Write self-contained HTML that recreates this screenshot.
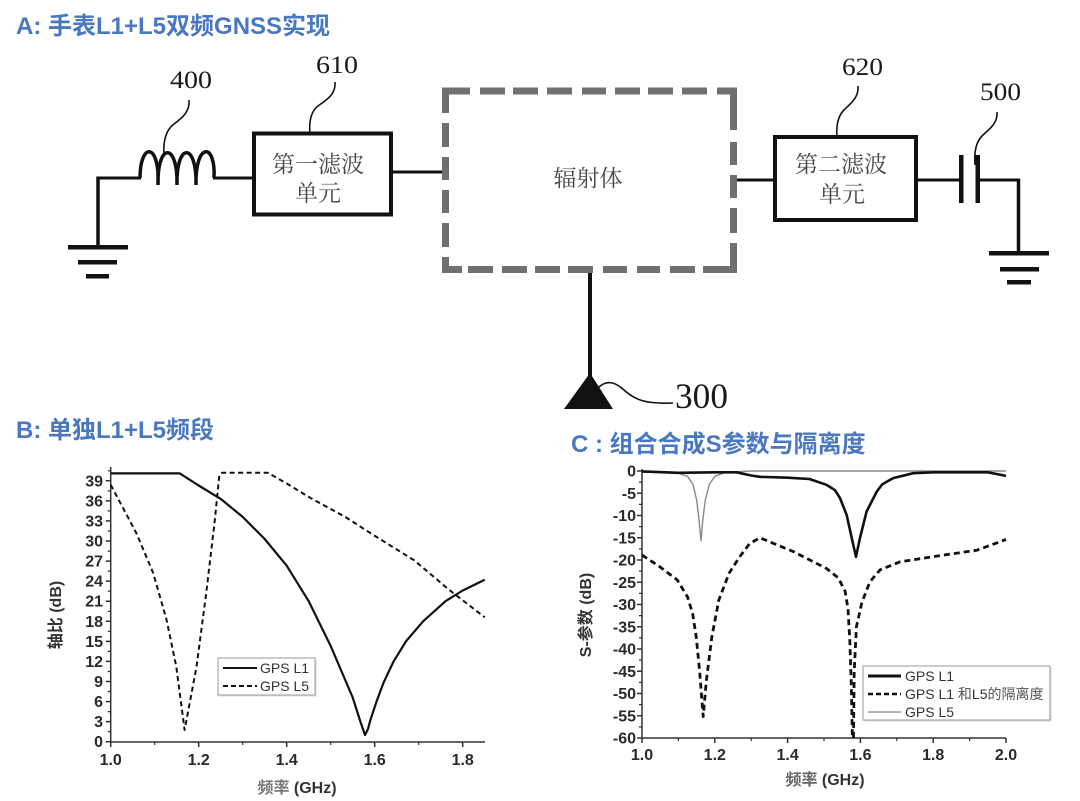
<!DOCTYPE html>
<html>
<head>
<meta charset="utf-8">
<style>
  html,body{margin:0;padding:0;background:#fff;}
  svg{display:block;}
  .ttl{font-family:"Liberation Sans","Noto Sans CJK SC",sans-serif;font-weight:bold;font-size:24px;fill:#4a78c0;}
  .cj{font-family:"Liberation Serif","Noto Serif CJK SC",serif;font-size:23px;fill:#484848;}
  .num{font-family:"Liberation Serif",serif;font-size:25px;fill:#1a1a1a;}
  .ax{font-family:"Liberation Sans","Noto Sans CJK SC",sans-serif;font-weight:bold;font-size:16px;fill:#2a2a2a;}
  .axt{font-family:"Liberation Sans","Noto Sans CJK SC",sans-serif;font-weight:bold;font-size:16px;fill:#333;}
  .lg{font-family:"Liberation Sans","Noto Sans CJK SC",sans-serif;font-size:14px;fill:#333;}
</style>
</head>
<body>
<svg width="1080" height="801" viewBox="0 0 1080 801" xmlns="http://www.w3.org/2000/svg">
  <rect width="1080" height="801" fill="#fff"/>

  <!-- Titles -->
  <text class="ttl" x="16" y="34">A: 手表L1+L5双频GNSS实现</text>
  <text class="ttl" x="16" y="438">B: 单独L1+L5频段</text>
  <text class="ttl" x="571" y="452">C : 组合合成S参数与隔离度</text>

  <!-- ===== Circuit ===== -->
  <g stroke="#111" fill="none" stroke-linecap="butt">
    <!-- left ground + wire -->
    <line x1="98" y1="176.5" x2="98" y2="247" stroke-width="3.5"/>
    <line x1="96.5" y1="178" x2="141" y2="178" stroke-width="3"/>
    <!-- inductor -->
    <path d="M140,178 C140,142 160,142 158,185 C157,142 178,142 177,185 C176,142 197,142 196,185 C195,142 216,142 214,178" stroke-width="3.5"/>
    <line x1="213" y1="178" x2="253" y2="178" stroke-width="3"/>
    <!-- box 610 -->
    <rect x="254" y="133.5" width="137" height="81" stroke-width="4"/>
    <!-- connector to radiator -->
    <line x1="391" y1="172" x2="444" y2="172" stroke-width="3"/>
    <!-- connector right -->
    <line x1="735" y1="180" x2="775" y2="180" stroke-width="3"/>
    <!-- box 620 -->
    <rect x="775" y="137" width="141" height="83" stroke-width="4"/>
    <line x1="916" y1="180" x2="961" y2="180" stroke-width="3"/>
    <line x1="978" y1="180" x2="1020" y2="180" stroke-width="3"/>
    <line x1="1018.5" y1="178.5" x2="1018.5" y2="253" stroke-width="3.5"/>
    <!-- antenna feed -->
    <line x1="590" y1="273" x2="590" y2="380" stroke-width="4"/>
    <!-- leaders -->
    <path d="M189,100 C190,112 182,118 174,124 C166,130 163,140 164,155" stroke-width="1.6"/>
    <path d="M335,82 C336,95 326,100 318,106 C310,112 309,124 310,135" stroke-width="1.6"/>
    <path d="M858,86 C859,98 850,104 844,110 C838,116 836,126 837,138" stroke-width="1.6"/>
    <path d="M997,112 C998,124 988,130 982,136 C976,142 974,152 975,165" stroke-width="1.6"/>
    <path d="M598,388 C606,380 614,381 624,390 C636,401 648,404 673,403" stroke-width="1.6"/>
  </g>
  <!-- ground bars -->
  <g fill="#111">
    <rect x="68" y="245" width="60" height="4.5"/>
    <rect x="78" y="260" width="39" height="4.5"/>
    <rect x="86" y="274" width="23" height="4.5"/>
    <rect x="989" y="251" width="60" height="4.5"/>
    <rect x="1000" y="267" width="39" height="4.5"/>
    <rect x="1007" y="280" width="24" height="4.5"/>
    <!-- capacitor plates -->
    <rect x="959" y="155" width="4.5" height="48"/>
    <rect x="975.5" y="155" width="4.5" height="48"/>
    <!-- antenna triangle -->
    <polygon points="590,373 564,409 613,409"/>
  </g>
  <!-- dashed radiator box -->
  <g fill="#707070">
    <rect x="442" y="87.5" width="28" height="7"/>
    <rect x="480" y="87.5" width="25" height="7"/>
    <rect x="513" y="87.5" width="25" height="7"/>
    <rect x="547" y="87.5" width="25" height="7"/>
    <rect x="582" y="87.5" width="24" height="7"/>
    <rect x="615" y="87.5" width="25" height="7"/>
    <rect x="648" y="87.5" width="25" height="7"/>
    <rect x="682" y="87.5" width="25" height="7"/>
    <rect x="717" y="87.5" width="20" height="7"/>

    <rect x="442" y="87.5" width="7" height="25.5"/>
    <rect x="442" y="123" width="7" height="24"/>
    <rect x="442" y="157" width="7" height="23"/>
    <rect x="442" y="190" width="7" height="23"/>
    <rect x="442" y="223" width="7" height="24"/>
    <rect x="442" y="257" width="7" height="16"/>

    <rect x="442" y="266" width="20" height="7"/>
    <rect x="468" y="266" width="25" height="7"/>
    <rect x="502" y="266" width="25" height="7"/>
    <rect x="535" y="266" width="25" height="7"/>
    <rect x="568" y="266" width="25" height="7"/>
    <rect x="603" y="266" width="24" height="7"/>
    <rect x="637" y="266" width="23" height="7"/>
    <rect x="670" y="266" width="25" height="7"/>
    <rect x="703" y="266" width="34" height="7"/>

    <rect x="730" y="87.5" width="7" height="42.5"/>
    <rect x="730" y="142" width="7" height="23"/>
    <rect x="730" y="175" width="7" height="23"/>
    <rect x="730" y="208" width="7" height="25"/>
    <rect x="730" y="243" width="7" height="30"/>
  </g>

  <!-- circuit text -->
  <text class="cj" x="318" y="172" text-anchor="middle">第一滤波</text>
  <text class="cj" x="318" y="201" text-anchor="middle">单元</text>
  <text class="cj" x="841" y="172" text-anchor="middle">第二滤波</text>
  <text class="cj" x="842" y="202" text-anchor="middle">单元</text>
  <text class="cj" x="588" y="186" text-anchor="middle">辐射体</text>
  <text class="num" x="170" y="88" textLength="42" lengthAdjust="spacingAndGlyphs">400</text>
  <text class="num" x="316" y="73" textLength="42" lengthAdjust="spacingAndGlyphs">610</text>
  <text class="num" x="842" y="75" textLength="41" lengthAdjust="spacingAndGlyphs">620</text>
  <text class="num" x="980" y="100" textLength="41" lengthAdjust="spacingAndGlyphs">500</text>
  <text class="num" x="675" y="408" style="font-size:36px" textLength="53" lengthAdjust="spacingAndGlyphs">300</text>

  <!-- ===== Chart B ===== -->
  <g stroke="#333" stroke-width="1.5" fill="none">
    <line x1="110.7" y1="467" x2="110.7" y2="742.5"/>
    <line x1="110" y1="742" x2="485" y2="742"/>
    <path d="M105.7,741.7H110.7 M105.7,721.6H110.7 M105.7,701.6H110.7 M105.7,681.5H110.7 M105.7,661.4H110.7 M105.7,641.4H110.7 M105.7,621.3H110.7 M105.7,601.2H110.7 M105.7,581.1H110.7 M105.7,561.1H110.7 M105.7,541H110.7 M105.7,520.9H110.7 M105.7,500.9H110.7 M105.7,480.8H110.7"/>
    <path d="M107.7,731.7H110.7 M107.7,711.6H110.7 M107.7,691.5H110.7 M107.7,671.5H110.7 M107.7,651.4H110.7 M107.7,631.3H110.7 M107.7,611.3H110.7 M107.7,591.2H110.7 M107.7,571.1H110.7 M107.7,551.1H110.7 M107.7,531H110.7 M107.7,510.9H110.7 M107.7,490.9H110.7 M107.7,470.8H110.7" stroke-width="1.2"/>
    <path d="M110.7,742V747 M198.7,742V747 M286.7,742V747 M374.7,742V747 M462.7,742V747"/>
    <path d="M154.7,742V745 M242.7,742V745 M330.7,742V745 M418.7,742V745" stroke-width="1.2"/>
  </g>
  <g class="ax" text-anchor="end">
    <text x="103" y="747.2">0</text>
    <text x="103" y="727.1">3</text>
    <text x="103" y="707.1">6</text>
    <text x="103" y="687">9</text>
    <text x="103" y="666.9">12</text>
    <text x="103" y="646.9">15</text>
    <text x="103" y="626.8">18</text>
    <text x="103" y="606.7">21</text>
    <text x="103" y="586.6">24</text>
    <text x="103" y="566.6">27</text>
    <text x="103" y="546.5">30</text>
    <text x="103" y="526.4">33</text>
    <text x="103" y="506.4">36</text>
    <text x="103" y="486.3">39</text>
  </g>
  <g class="ax" text-anchor="middle">
    <text x="110.7" y="765">1.0</text>
    <text x="198.7" y="765">1.2</text>
    <text x="286.7" y="765">1.4</text>
    <text x="374.7" y="765">1.6</text>
    <text x="462.7" y="765">1.8</text>
  </g>
  <text class="axt" x="297" y="793" text-anchor="middle"><tspan fill="#777">频率</tspan> (GHz)</text>
  <text class="axt" transform="translate(61,615) rotate(-90)" text-anchor="middle" fill="#555">轴比 (dB)</text>

  <polyline fill="none" stroke="#111" stroke-width="2.2" stroke-linejoin="round"
    points="110.7,473.4 179.8,473.4 198.7,485.5 220.7,498.9 242.7,516.9 264.7,539 286.7,565.7 308.7,601.2 330.7,646 352.7,697.5 360.5,722 365,735 368,729 370.3,720.3 376.5,701.6 383.5,682.8 393.6,661.4 405.9,641.4 423.1,621.3 445.5,601.2 462.7,590.5 484.7,579.8"/>
  <polyline fill="none" stroke="#111" stroke-width="2" stroke-dasharray="5 3.5" stroke-linejoin="round"
    points="110.7,484.8 136.6,533.6 153.2,573.1 166.6,619.9 176.3,666.8 184.6,730 196.5,666.8 206.2,593.2 214.5,523 219.4,474.8 222,472.8 267.8,472.8 286.7,483.5 310.9,498.2 345.2,516.9 371.2,533.6 414.3,560.4 449.1,589.8 484.7,617.3"/>

  <!-- legend B -->
  <rect x="219.5" y="659.5" width="97" height="37" fill="#ddd"/>
  <rect x="218" y="658" width="97" height="37" fill="#fff" stroke="#999" stroke-width="1"/>
  <line x1="223" y1="668" x2="257" y2="668" stroke="#111" stroke-width="2"/>
  <line x1="223" y1="686" x2="257" y2="686" stroke="#111" stroke-width="2" stroke-dasharray="5 3"/>
  <text class="lg" x="260" y="673">GPS L1</text>
  <text class="lg" x="260" y="691">GPS L5</text>

  <!-- ===== Chart C ===== -->
  <g stroke="#333" stroke-width="1.5" fill="none">
    <line x1="642" y1="469" x2="642" y2="738.5"/>
    <line x1="641.3" y1="738" x2="1006" y2="738"/>
    <path d="M637,471H642 M637,493.3H642 M637,515.5H642 M637,537.8H642 M637,560H642 M637,582.3H642 M637,604.5H642 M637,626.8H642 M637,649H642 M637,671.3H642 M637,693.5H642 M637,715.8H642 M637,738H642"/>
    <path d="M639,482.1H642 M639,504.4H642 M639,526.6H642 M639,548.9H642 M639,571.1H642 M639,593.4H642 M639,615.6H642 M639,637.9H642 M639,660.1H642 M639,682.4H642 M639,704.6H642 M639,726.9H642" stroke-width="1.2"/>
    <path d="M642,738V743 M714.8,738V743 M787.6,738V743 M860.4,738V743 M933.2,738V743 M1006,738V743"/>
    <path d="M678.4,738V741 M751.2,738V741 M824,738V741 M896.8,738V741 M969.6,738V741" stroke-width="1.2"/>
  </g>
  <g class="ax" text-anchor="end">
    <text x="636" y="476.5">0</text>
    <text x="636" y="498.8">-5</text>
    <text x="636" y="521">-10</text>
    <text x="636" y="543.3">-15</text>
    <text x="636" y="565.5">-20</text>
    <text x="636" y="587.8">-25</text>
    <text x="636" y="610">-30</text>
    <text x="636" y="632.3">-35</text>
    <text x="636" y="654.5">-40</text>
    <text x="636" y="676.8">-45</text>
    <text x="636" y="699">-50</text>
    <text x="636" y="721.3">-55</text>
    <text x="636" y="743.5">-60</text>
  </g>
  <g class="ax" text-anchor="middle">
    <text x="642" y="760">1.0</text>
    <text x="714.8" y="760">1.2</text>
    <text x="787.6" y="760">1.4</text>
    <text x="860.4" y="760">1.6</text>
    <text x="933.2" y="760">1.8</text>
    <text x="1006" y="760">2.0</text>
  </g>
  <text class="axt" x="825" y="785" text-anchor="middle"><tspan fill="#666">频率</tspan> (GHz)</text>
  <text class="axt" transform="translate(591,615) rotate(-90)" text-anchor="middle">S-参数 (dB)</text>

  <!-- L5 thin -->
  <polyline fill="none" stroke="#8a8a8a" stroke-width="1.4" stroke-linejoin="round"
    points="642,471.9 678.4,473.2 687.5,476.3 693,484.4 696.6,499.9 699.1,520 701,540.9 702.8,520 705.3,499.9 709.3,484.4 714.8,476.3 725.7,472.3 751.2,471 1006,471"/>
  <!-- L1 thick -->
  <polyline fill="none" stroke="#111" stroke-width="2.6" stroke-linejoin="round"
    points="642,471.4 678.4,472.8 714.8,472.3 736.6,472.3 751.2,475.5 760,476.8 787.6,477.7 809.4,479 826.5,484.8 834.9,490.1 840,498.1 846.7,515.1 851.7,537.8 856,556.9 860,537.8 866.6,511.5 876.8,491.5 882.2,484.4 893.2,478.1 913.2,473.2 933.2,472.3 987.8,472.3 1006,475.9"/>
  <!-- isolation dashed -->
  <polyline fill="none" stroke="#111" stroke-width="2.8" stroke-dasharray="6 4" stroke-linejoin="round"
    points="642,555.1 659.8,566.7 677.3,580 687.5,596.9 692.6,613.4 696.2,636.5 699.5,669.9 703.2,716.6 706.4,680.2 711.9,636.5 718.8,600.1 729,573.4 739.6,556.9 749.7,543.5 759.9,537.8 793.1,551.5 826.5,568.5 838.2,577.8 845.1,591.2 848,609 849.8,640.1 851.3,684.6 852.4,738"/>
  <polyline fill="none" stroke="#111" stroke-width="2.8" stroke-dasharray="6 4" stroke-linejoin="round"
    points="853.5,738 854.2,671.3 856.4,626.8 861.9,602.3 869.9,581.8 880.1,569.8 900.1,561.8 943.4,555.1 976.9,550.2 1006,539.5"/>

  <!-- legend C -->
  <rect x="864.5" y="667.5" width="187" height="54" fill="#ddd"/>
  <rect x="863" y="666" width="187" height="54" fill="#fff" stroke="#999" stroke-width="1"/>
  <line x1="868" y1="676" x2="901" y2="676" stroke="#111" stroke-width="3"/>
  <line x1="868" y1="694" x2="901" y2="694" stroke="#111" stroke-width="2.6" stroke-dasharray="5 3"/>
  <line x1="868" y1="712" x2="901" y2="712" stroke="#888" stroke-width="1.3"/>
  <text class="lg" x="905" y="681">GPS L1</text>
  <text class="lg" x="905" y="699">GPS L1 <tspan fill="#555">和</tspan>L5<tspan fill="#555">的隔离度</tspan></text>
  <text class="lg" x="905" y="717">GPS L5</text>
</svg>
</body>
</html>
